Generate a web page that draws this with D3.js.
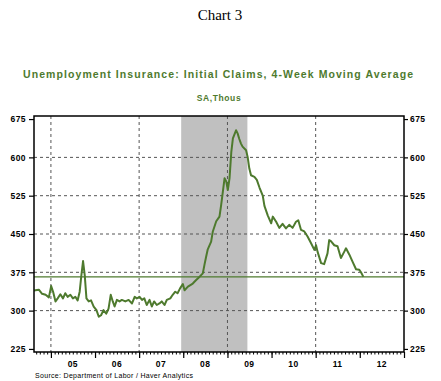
<!DOCTYPE html>
<html><head><meta charset="utf-8">
<script src="https://cdn.jsdelivr.net/npm/d3@7"></script>
<style>body{margin:0;background:#fff}svg{display:block}</style>
</head><body>
<svg id="c" width="441" height="381"></svg>
<script>
const dates = ["2004-08-15","2004-08-26","2004-09-23","2004-10-20","2004-11-18","2004-12-15","2005-01-03","2005-01-19","2005-02-08","2005-02-26","2005-03-20","2005-04-11","2005-04-30","2005-05-19","2005-06-11","2005-07-02","2005-07-22","2005-08-10","2005-08-27","2005-09-10","2005-09-24","2005-10-08","2005-10-22","2005-11-10","2005-11-29","2005-12-21","2006-01-13","2006-02-01","2006-02-20","2006-03-12","2006-04-04","2006-04-23","2006-05-11","2006-05-28","2006-06-12","2006-07-01","2006-07-23","2006-08-11","2006-09-09","2006-10-06","2006-11-03","2006-11-25","2006-12-13","2007-01-05","2007-01-25","2007-02-13","2007-03-05","2007-03-28","2007-04-16","2007-05-05","2007-05-27","2007-06-18","2007-07-07","2007-07-30","2007-08-18","2007-09-16","2007-10-06","2007-10-27","2007-11-15","2007-12-07","2007-12-29","2008-01-12","2008-02-09","2008-03-20","2008-04-17","2008-05-14","2008-06-11","2008-06-25","2008-07-08","2008-07-22","2008-08-19","2008-09-02","2008-09-30","2008-10-27","2008-11-10","2008-11-24","2008-12-08","2008-12-22","2009-01-04","2009-01-18","2009-02-02","2009-02-15","2009-03-13","2009-03-26","2009-04-09","2009-04-23","2009-05-06","2009-06-04","2009-06-17","2009-07-01","2009-07-15","2009-08-12","2009-09-01","2009-09-23","2009-10-20","2009-11-03","2009-12-01","2009-12-29","2010-01-11","2010-02-08","2010-03-06","2010-04-02","2010-04-30","2010-05-27","2010-06-24","2010-07-22","2010-08-10","2010-09-02","2010-09-29","2010-10-26","2010-11-24","2010-12-21","2011-01-04","2011-01-17","2011-02-15","2011-03-12","2011-04-09","2011-04-23","2011-05-07","2011-06-04","2011-07-01","2011-07-29","2011-08-25","2011-09-09","2011-10-06","2011-11-02","2011-12-01","2011-12-28","2012-01-11","2012-01-31"];
const claims = [339,340,341,333,331,326,348,337,318,324,332,324,334,327,331,324,327,320,337,369,397,369,324,318,320,308,301,288,291,301,294,304,331,318,308,321,318,321,318,321,314,327,324,327,321,324,311,321,308,318,311,314,318,311,321,324,331,337,334,344,352,340,347,353,360,366,373,390,405,420,435,455,475,484,507,533,559,553,536,559,611,637,653,647,636,627,621,614,601,578,565,562,556,541,525,505,486,471,484,474,462,470,461,468,462,474,477,458,455,445,432,419,428,415,393,391,412,438,436,428,426,403,415,422,410,396,381,380,375,366];
const yTicks = [225,300,375,450,525,600,675];
const yGrid = [300,375,450,525,600];
const yearLabels = ["05","06","07","08","09","10","11","12"];
const gridYears = ["2005-01-01","2007-01-01","2009-01-01","2011-01-01"];
const recession = ["2007-12-15","2009-06-15"];
const refValue = 366;
const xDomain = ["2004-08-14","2013-01-01"];
const yDomain = [219, 681];

const parse = d3.timeParse("%Y-%m-%d");
const green = "#4e7a2e";
const svg = d3.select("#c");
const L = 34, R = 404, T = 116, B = 352;
const x = d3.scaleTime().domain(xDomain.map(parse)).range([L, R]);
const y = d3.scaleLinear().domain(yDomain).range([B, T]);

// titles
svg.append("text").attr("x", 220).attr("y", 20).attr("text-anchor", "middle")
  .attr("font-family", "Liberation Serif, Times New Roman, serif").attr("font-size", 15).attr("fill", "#000")
  .text("Chart 3");
svg.append("text").attr("x", 218).attr("y", 78).attr("text-anchor", "middle")
  .attr("font-family", "Liberation Sans, Arial, sans-serif").attr("font-weight", "bold").attr("font-size", 10.5)
  .attr("fill", green).attr("textLength", 390).attr("lengthAdjust", "spacing")
  .text("Unemployment Insurance: Initial Claims, 4-Week Moving Average");
svg.append("text").attr("x", 219).attr("y", 101).attr("text-anchor", "middle")
  .attr("font-family", "Liberation Sans, Arial, sans-serif").attr("font-weight", "bold").attr("font-size", 8.5)
  .attr("fill", green).attr("letter-spacing", 0.6)
  .text("SA,Thous");

// recession shading
svg.append("rect").attr("x", x(parse(recession[0]))).attr("y", T)
  .attr("width", x(parse(recession[1])) - x(parse(recession[0]))).attr("height", B - T)
  .attr("fill", "#c0c0c0");

// gridlines
svg.append("g").selectAll("line").data(yGrid).join("line")
  .attr("x1", L).attr("x2", R).attr("y1", d => y(d)).attr("y2", d => y(d))
  .attr("stroke", "#555").attr("stroke-width", 1).attr("stroke-dasharray", "3,3");
svg.append("g").selectAll("line").data(gridYears.map(parse)).join("line")
  .attr("x1", d => x(d)).attr("x2", d => x(d)).attr("y1", T).attr("y2", B)
  .attr("stroke", "#555").attr("stroke-width", 1).attr("stroke-dasharray", "3,3");

// reference line
svg.append("line").attr("x1", L).attr("x2", R).attr("y1", y(refValue)).attr("y2", y(refValue))
  .attr("stroke", green).attr("stroke-width", 1.2);

// data line
svg.append("path").datum(dates.map((d, i) => [parse(d), claims[i]]))
  .attr("fill", "none").attr("stroke", green).attr("stroke-width", 2)
  .attr("stroke-linejoin", "round")
  .attr("d", d3.line().x(d => x(d[0])).y(d => y(d[1])));

// frame
svg.append("rect").attr("x", L).attr("y", T).attr("width", R - L).attr("height", B - T)
  .attr("fill", "none").attr("stroke", "#000").attr("stroke-width", 1.5);

// y axes
const axFont = g => g.selectAll("text").attr("font-family", "Liberation Sans, Arial, sans-serif")
  .attr("font-weight", "bold").attr("font-size", 8.5).attr("fill", "#000").attr("letter-spacing", 0.4);
const yl = svg.append("g").attr("transform", `translate(${L},0)`)
  .call(d3.axisLeft(y).tickValues(yTicks).tickSize(5).tickPadding(3));
yl.select(".domain").remove(); yl.selectAll("line").attr("stroke", "#000").attr("stroke-width", 1.2); axFont(yl);
const yr = svg.append("g").attr("transform", `translate(${R},0)`)
  .call(d3.axisRight(y).tickValues(yTicks).tickSize(4).tickPadding(2));
yr.select(".domain").remove(); yr.selectAll("line").attr("stroke", "#000").attr("stroke-width", 1.2); axFont(yr);

// x axis: monthly minor ticks and yearly major ticks
const xd = x.domain();
const months = d3.timeMonth.range(d3.timeMonth.ceil(xd[0]), d3.timeDay.offset(xd[1], 1));
const xm = svg.append("g").attr("transform", `translate(0,${B})`)
  .call(d3.axisBottom(x).tickValues(months).tickSize(2.5).tickFormat(""));
xm.select(".domain").remove(); xm.selectAll("line").attr("stroke", "#000");
const years = d3.timeYear.range(d3.timeYear.ceil(xd[0]), d3.timeDay.offset(xd[1], 1));
const xy = svg.append("g").attr("transform", `translate(0,${B})`)
  .call(d3.axisBottom(x).tickValues(years).tickSize(6).tickFormat(""));
xy.select(".domain").remove(); xy.selectAll("line").attr("stroke", "#000").attr("stroke-width", 1.2);
svg.append("g").selectAll("text").data(yearLabels).join("text")
  .attr("x", d => x(new Date(2000 + +d, 6, 1))).attr("y", 367).attr("text-anchor", "middle")
  .attr("font-family", "Liberation Sans, Arial, sans-serif").attr("font-weight", "bold")
  .attr("font-size", 8.5).attr("letter-spacing", 0.4).attr("fill", "#000").text(d => d);

// source
svg.append("text").attr("x", 35).attr("y", 378)
  .attr("font-family", "Liberation Sans, Arial, sans-serif").attr("font-size", 7).attr("fill", "#000")
  .attr("textLength", 158).attr("lengthAdjust", "spacing")
  .text("Source:  Department of Labor / Haver Analytics");
</script>
</body></html>
